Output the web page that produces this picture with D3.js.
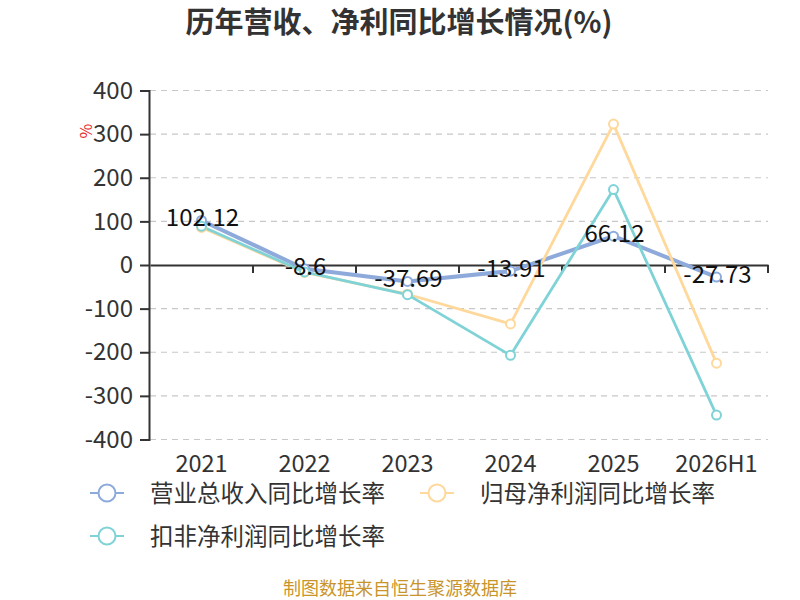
<!DOCTYPE html>
<html>
<head>
<meta charset="utf-8">
<script src="https://cdn.jsdelivr.net/npm/d3@7"></script>
<style>
  body { margin: 0; background: #fff; }
  text { font-family: "Noto Sans CJK SC", "Noto Sans", sans-serif; }
</style>
</head>
<body>
<svg id="chart" width="800" height="600"></svg>
<script>
const years = ["2021", "2022", "2023", "2024", "2025", "2026H1"];
const revenueGrowth = [102.12, -8.6, -37.69, -13.91, 66.12, -27.73];
const netProfitGrowth = [86, -17, -67, -135, 323, -225];
const deductedProfitGrowth = [89, -16, -68, -207, 173, -344];
const yTicks = [400, 300, 200, 100, 0, -100, -200, -300, -400];

const seriesNames = ["营业总收入同比增长率", "归母净利润同比增长率", "扣非净利润同比增长率"];
const seriesColors = ["#8eaadb", "#ffd89b", "#7fd3d7"];

const svg = d3.select("#chart");

const x = d3.scaleBand().domain(years).range([150, 768]);
const y = d3.scaleLinear().domain([-400, 400]).range([439.5, 90.5]);

// title
svg.append("text")
  .attr("x", 399).attr("y", 33)
  .attr("text-anchor", "middle")
  .attr("font-size", 29).attr("font-weight", "bold")
  .attr("fill", "#333")
  .text("历年营收、净利同比增长情况(%)");

// grid lines
svg.append("g").selectAll("line")
  .data(yTicks.filter(d => d !== 0))
  .enter().append("line")
  .attr("x1", 150).attr("x2", 768)
  .attr("y1", d => y(d)).attr("y2", d => y(d))
  .attr("stroke", "#c8c8c8").attr("stroke-width", 1.2)
  .attr("stroke-dasharray", "6,5");

// y axis
const yAxis = svg.append("g")
  .attr("transform", "translate(149,0)")
  .call(d3.axisLeft(y).tickValues(yTicks).tickSize(9).tickPadding(7).tickFormat(d => String(d)));
yAxis.select(".domain").attr("stroke", "#333").attr("stroke-width", 2);
yAxis.selectAll(".tick line").attr("stroke", "#333").attr("stroke-width", 2);
yAxis.selectAll(".tick text")
  .attr("font-size", 24).attr("fill", "#333")
  .style("font-family", "'Noto Sans CJK SC', sans-serif");

// % unit
svg.append("text")
  .attr("transform", "translate(92,131) rotate(-90)")
  .attr("text-anchor", "middle")
  .attr("font-size", 16).attr("fill", "#e8262a")
  .text("%");

// x axis at zero
const xAxis = svg.append("g")
  .attr("transform", `translate(0,${y(0)})`)
  .call(d3.axisBottom(x).tickSizeOuter(0).tickSize(0).tickFormat(""));
xAxis.select(".domain").attr("stroke", "#333").attr("stroke-width", 2);
xAxis.selectAll(".tick").remove();
const bounds = years.map(d => x(d)).concat([x.range()[1]]);
xAxis.selectAll(".bt").data(bounds.slice(1)).enter().append("line")
  .attr("x1", d => d).attr("x2", d => d)
  .attr("y1", 0).attr("y2", 8)
  .attr("stroke", "#333").attr("stroke-width", 2);

// x labels at bottom
svg.append("g").selectAll("text")
  .data(years).enter().append("text")
  .attr("x", d => x(d) + x.bandwidth() / 2)
  .attr("y", 472)
  .attr("text-anchor", "middle")
  .attr("font-size", 23.5).attr("fill", "#333")
  .text(d => d);

// lines
const allSeries = [revenueGrowth, netProfitGrowth, deductedProfitGrowth];
const widths = [4, 2.8, 2.8];
const cx = (d, i) => x(years[i]) + x.bandwidth() / 2;
const line = d3.line().x(cx).y(d => y(d));

[0, 1, 2].forEach(k => {
  svg.append("path")
    .datum(allSeries[k])
    .attr("fill", "none")
    .attr("stroke", seriesColors[k])
    .attr("stroke-width", widths[k])
    .attr("stroke-linejoin", "round")
    .attr("d", line);
});
[0, 1, 2].forEach(k => {
  svg.append("g").selectAll("circle")
    .data(allSeries[k]).enter().append("circle")
    .attr("cx", cx).attr("cy", d => y(d))
    .attr("r", 4.5)
    .attr("fill", "#fff")
    .attr("stroke", seriesColors[k])
    .attr("stroke-width", 2);
});

// data labels for revenue
svg.append("g").selectAll("text")
  .data(revenueGrowth).enter().append("text")
  .attr("x", (d, i) => cx(d, i) + 1)
  .attr("y", d => y(d) + 6)
  .attr("text-anchor", "middle")
  .attr("font-size", 24).attr("fill", "#111")
  .text(d => d);

// legend
const legendItems = [
  { x: 90, y: 493 },
  { x: 420, y: 493 },
  { x: 90, y: 536 }
];
legendItems.forEach((p, k) => {
  const g = svg.append("g").attr("transform", `translate(${p.x},${p.y})`);
  g.append("line").attr("x1", 0).attr("x2", 34).attr("y1", 0).attr("y2", 0)
    .attr("stroke", seriesColors[k]).attr("stroke-width", 2);
  g.append("circle").attr("cx", 17).attr("cy", 0).attr("r", 8.5)
    .attr("fill", "#fff").attr("stroke", seriesColors[k]).attr("stroke-width", 2);
  g.append("text").attr("x", 60).attr("y", 8.5)
    .attr("font-size", 23.5).attr("fill", "#333")
    .text(seriesNames[k]);
});

// footer
svg.append("text")
  .attr("x", 400).attr("y", 595)
  .attr("text-anchor", "middle")
  .attr("font-size", 18).attr("fill", "#c9952b")
  .text("制图数据来自恒生聚源数据库");
</script>
</body>
</html>
